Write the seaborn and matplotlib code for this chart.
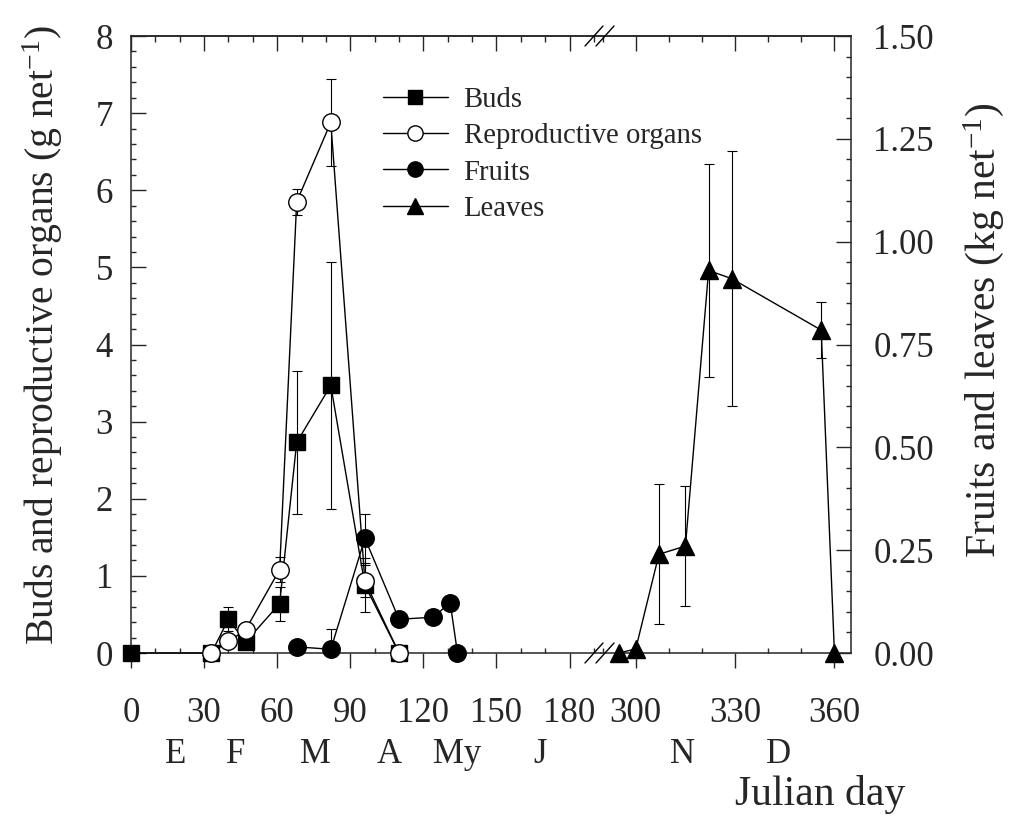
import matplotlib
matplotlib.use("Agg")
import matplotlib.pyplot as plt
import seaborn as sns
from matplotlib.lines import Line2D
from matplotlib.ticker import MultipleLocator, FormatStrFormatter

# buds and reproductive organs, g net-1 (left axis)
bud_day = [0, 33, 40, 47, 61, 68, 82, 96, 110]
bud_val = [0.0, 0.0, 0.44, 0.14, 0.64, 2.73, 3.47, 0.88, 0.0]
bud_err = [0.0, 0.0, 0.16, 0.0, 0.22, 0.93, 1.60, 0.35, 0.0]

rep_day = [33, 40, 47, 61, 68, 82, 96, 110]
rep_val = [0.0, 0.15, 0.30, 1.08, 5.85, 6.88, 0.93, 0.0]
rep_err = [0.0, 0.0, 0.0, 0.16, 0.17, 0.56, 0.21, 0.0]

# fruits and leaves, kg net-1 (right axis)
fruit_day = [68, 82, 96, 110, 124, 131, 134]
fruit_val = [0.015, 0.009, 0.279, 0.082, 0.087, 0.122, 0.0]
fruit_err = [0.0, 0.049, 0.060, 0.0, 0.0, 0.0, 0.0]

leaf_day = [295, 300, 307, 315, 322, 329, 356, 360]
leaf_val = [0.0, 0.01, 0.24, 0.26, 0.93, 0.91, 0.785, 0.0]
leaf_err = [0.0, 0.0, 0.17, 0.145, 0.26, 0.31, 0.068, 0.0]

month_labels = ["E", "F", "M", "A", "My", "J", "N", "D"]
month_days = [18.5, 43, 75.5, 106, 134, 168, 314, 343]

sns.set_style("ticks")
plt.rcParams["font.family"] = ["Liberation Serif", "DejaVu Serif"]
plt.rcParams["mathtext.fontset"] = "custom"
plt.rcParams["mathtext.rm"] = "Liberation Serif"
plt.rcParams["mathtext.it"] = "Liberation Serif:italic"
plt.rcParams["axes.linewidth"] = 1.1

W, H = 1011, 824
fig = plt.figure(figsize=(W / 100, H / 100), dpi=100)
ax1 = fig.add_axes([131 / W, 171 / H, 470 / W, 617 / H])
ax2 = fig.add_axes([601 / W, 171 / H, 250 / W, 617 / H])
ax1f = ax1.twinx()

line_kw = dict(color="black", linewidth=1.0, markeredgecolor="black",
               markeredgewidth=1.0, legend=False, errorbar=None, clip_on=False)
err_kw = dict(fmt="none", ecolor="black", elinewidth=0.8, capsize=3.6,
              capthick=0.8, zorder=1)


def draw(ax, days, vals, errs, marker, size, face):
    pts = [(d, v, e) for d, v, e in zip(days, vals, errs) if e > 0]
    if pts:
        ax.errorbar([p[0] for p in pts], [p[1] for p in pts],
                    yerr=[p[2] for p in pts], **err_kw)
    sns.lineplot(x=days, y=vals, ax=ax, marker=marker, markersize=size,
                 markerfacecolor=face, zorder=3, **line_kw)


draw(ax1, bud_day, bud_val, bud_err, "s", 11.3, "black")
draw(ax1, rep_day, rep_val, rep_err, "o", 12.6, "white")
draw(ax1f, fruit_day, fruit_val, fruit_err, "o", 12.6, "black")
draw(ax2, leaf_day, leaf_val, leaf_err, "^", 12.7, "black")

# left panel
ax1.set_xlim(0, 192.9)
ax1.set_ylim(0, 8)
ax1f.set_ylim(0, 1.5)
ax1f.axis("off")
ax1.spines["right"].set_visible(False)
ax1.set_xticks(range(0, 181, 30))
ax1.xaxis.set_minor_locator(MultipleLocator(10))
ax1.yaxis.set_major_locator(MultipleLocator(1))
ax1.yaxis.set_minor_locator(MultipleLocator(0.2))
ax1.yaxis.set_major_formatter(FormatStrFormatter("%d"))

# right panel
ax2.set_xlim(289.5, 365)
ax2.set_ylim(0, 1.5)
ax2.spines["left"].set_visible(False)
ax2.set_xticks([300, 330, 360])
ax2.xaxis.set_minor_locator(MultipleLocator(10))
ax2.yaxis.set_major_locator(MultipleLocator(0.25))
ax2.yaxis.set_minor_locator(MultipleLocator(0.05))
ax2.yaxis.set_major_formatter(FormatStrFormatter("%.2f"))
ax2.yaxis.tick_right()
ax2.yaxis.set_label_position("right")

for ax in (ax1, ax2):
    ax.set_xlabel("")
    ax.tick_params(axis="x", which="major", direction="out", length=10.8,
                   width=1.0, labelsize=25, pad=21)
    ax.tick_params(axis="x", which="minor", direction="in", length=3.6, width=1.0)
    ax.tick_params(axis="y", which="major", direction="in", length=10.8,
                   width=1.0, labelsize=25)
    ax.tick_params(axis="y", which="minor", direction="in", length=3.6, width=1.0)
    top = ax.secondary_xaxis("top")
    top.set_xticks(ax.get_xticks())
    top.xaxis.set_minor_locator(MultipleLocator(10))
    top.tick_params(which="major", direction="in", length=10.8, width=1.0,
                    labeltop=False)
    top.tick_params(which="minor", direction="in", length=4.3, width=1.0)
    top.spines["top"].set_linewidth(1.1)

ax1.tick_params(axis="y", pad=13)
ax2.tick_params(axis="y", which="both", left=False, right=True, pad=16)
ax2.tick_params(axis="y", which="both", labelleft=False, labelright=True)

ax1.set_ylabel("Buds and reproductive organs (g net$^{-1}$)", fontsize=28.5)
ax1.yaxis.set_label_coords(-0.14, 0.515)
ax2.set_ylabel("Fruits and leaves (kg net$^{-1}$)", fontsize=30)
ax2.yaxis.set_label_coords(1.44, 0.523)

# month initials under the day ticks
for lab, d in zip(month_labels, month_days):
    ax = ax1 if d < 200 else ax2
    ax.text(d, -0.165, lab, transform=ax.get_xaxis_transform(),
            ha="center", va="center", fontsize=25)

fig.text(905 / W, 1 - 795 / H, "Julian day", ha="right", va="center",
         fontsize=30)

# axis break marks
for yc in (36, 653):
    for xc in (594, 605):
        fig.add_artist(Line2D([(xc - 9) / W, (xc + 9) / W],
                              [1 - (yc + 10) / H, 1 - (yc - 10) / H],
                              color="black", linewidth=1.0))

handles = [
    Line2D([], [], color="black", lw=1, marker="s", markersize=10, mfc="black", mec="black"),
    Line2D([], [], color="black", lw=1, marker="o", markersize=11, mfc="white", mec="black"),
    Line2D([], [], color="black", lw=1, marker="o", markersize=11, mfc="black", mec="black"),
    Line2D([], [], color="black", lw=1, marker="^", markersize=11, mfc="black", mec="black"),
]
fig.legend(handles, ["Buds", "Reproductive organs", "Fruits", "Leaves"],
           loc="upper left", bbox_to_anchor=(383 / W, 1 - 87 / H),
           frameon=False, fontsize=20.7, handlelength=2.25, handletextpad=0.55,
           labelspacing=0.35, borderpad=0, borderaxespad=0)

fig.savefig("out.png", dpi=100)
